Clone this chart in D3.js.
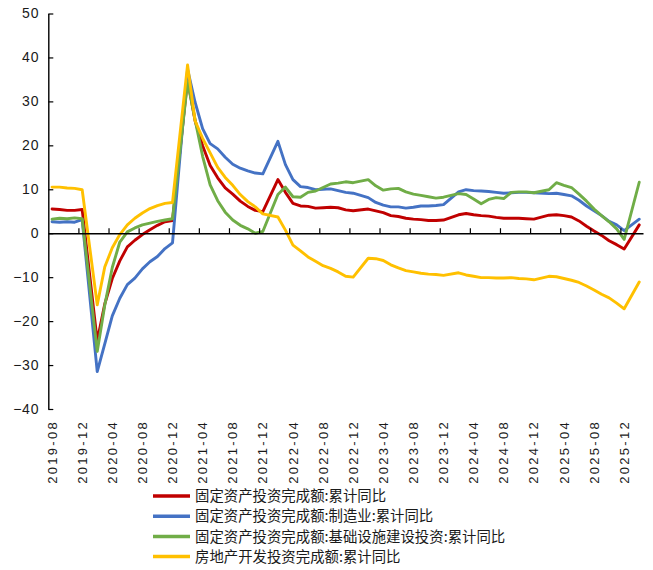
<!DOCTYPE html>
<html>
<head>
<meta charset="utf-8">
<script src="https://cdn.jsdelivr.net/npm/d3@7/dist/d3.min.js"></script>
<style>
  html, body { margin: 0; padding: 0; background: #fff; }
  svg { display: block; }
  .tick-label { font-family: "Liberation Sans", Arial, sans-serif; fill: #1a1a1a; }
  .legend-label { font-family: "Noto Sans CJK SC", sans-serif; fill: #1a1a1a; }
</style>
</head>
<body>
<svg id="chart" width="653" height="570"></svg>
<script>
// Monthly categories (cumulative YoY, January folded into Jan–Feb release)
const months = [
  "2019-08","2019-09","2019-10","2019-11","2019-12",
  "2020-01","2020-02","2020-03","2020-04","2020-05","2020-06","2020-07","2020-08","2020-09","2020-10","2020-11","2020-12",
  "2021-01","2021-02","2021-03","2021-04","2021-05","2021-06","2021-07","2021-08","2021-09","2021-10","2021-11","2021-12",
  "2022-01","2022-02","2022-03","2022-04","2022-05","2022-06","2022-07","2022-08","2022-09","2022-10","2022-11","2022-12",
  "2023-01","2023-02","2023-03","2023-04","2023-05","2023-06","2023-07","2023-08","2023-09","2023-10","2023-11","2023-12",
  "2024-01","2024-02","2024-03","2024-04","2024-05","2024-06","2024-07","2024-08","2024-09","2024-10","2024-11","2024-12",
  "2025-01","2025-02","2025-03","2025-04","2025-05","2025-06","2025-07","2025-08","2025-09","2025-10","2025-11","2025-12",
  "2026-01","2026-02"
];

// 固定资产投资完成额:累计同比
const faiTotal = [
  5.5, 5.4, 5.2, 5.2, 5.4,
  null, -24.5, -16.1, -10.3, -6.3, -3.1, -1.6, -0.3, 0.8, 1.8, 2.6, 2.9,
  null, 35.0, 25.6, 19.9, 15.4, 12.6, 10.3, 8.9, 7.3, 6.1, 5.2, 4.9,
  null, 12.2, 9.3, 6.8, 6.2, 6.1, 5.7, 5.8, 5.9, 5.8, 5.3, 5.1,
  null, 5.5, 5.1, 4.7, 4.0, 3.8, 3.4, 3.2, 3.1, 2.9, 2.9, 3.0,
  null, 4.2, 4.5, 4.2, 4.0, 3.9, 3.6, 3.4, 3.4, 3.4, 3.3, 3.2,
  null, 4.1, 4.2, 4.0, 3.7, 2.8, 1.6, 0.5, -0.5, -1.7, -2.6, -3.6,
  null, 1.9
];

// 固定资产投资完成额:制造业:累计同比
const faiManufacturing = [
  2.6, 2.5, 2.6, 2.5, 3.1,
  null, -31.5, -25.2, -18.8, -14.8, -11.7, -10.2, -8.1, -6.5, -5.3, -3.5, -2.2,
  null, 37.3, 29.8, 23.8, 20.4, 19.2, 17.3, 15.7, 14.8, 14.2, 13.7, 13.5,
  null, 20.9, 15.6, 12.2, 10.6, 10.4, 9.9, 10.0, 10.1, 9.7, 9.3, 9.1,
  null, 8.1, 7.0, 6.4, 6.0, 6.0, 5.7, 5.9, 6.2, 6.2, 6.3, 6.5,
  null, 9.4, 9.9, 9.7, 9.6, 9.5, 9.3, 9.1, 9.2, 9.3, 9.3, 9.2,
  null, 9.0, 9.1, 8.8, 8.5, 7.5, 6.2, 5.1, 4.0, 2.7, 1.9, 0.6,
  null, 3.2
];

// 固定资产投资完成额:基础设施建设投资:累计同比
const faiInfrastructure = [
  3.2, 3.4, 3.3, 3.5, 3.3,
  null, -26.9, -16.4, -7.8, -2.0, 0.3, 1.2, 1.9, 2.3, 2.7, 3.0, 3.3,
  null, 34.5, 25.8, 17.5, 11.0, 7.4, 4.8, 3.0, 1.8, 1.0, 0.0, 0.4,
  null, 8.8, 10.5, 8.3, 8.2, 9.3, 9.6, 10.4, 11.2, 11.4, 11.7, 11.5,
  null, 12.2, 10.8, 9.8, 10.1, 10.2, 9.4, 8.9, 8.6, 8.3, 8.0, 8.2,
  null, 9.0, 8.8, 7.8, 6.7, 7.7, 8.1, 7.9, 9.3, 9.4, 9.4, 9.2,
  null, 9.9, 11.5, 10.9, 10.4, 8.9, 7.3, 5.5, 4.0, 2.6, 1.0, -1.4,
  null, 11.6
];

// 房地产开发投资完成额:累计同比
const realEstate = [
  10.5, 10.5, 10.3, 10.2, 9.9,
  null, -16.3, -7.7, -3.3, -0.3, 1.9, 3.4, 4.6, 5.6, 6.3, 6.8, 7.0,
  null, 38.3, 25.6, 21.6, 18.3, 15.0, 12.7, 10.9, 8.8, 7.2, 6.0, 4.4,
  null, 3.7, 0.7, -2.7, -4.0, -5.4, -6.4, -7.4, -8.0, -8.8, -9.8, -10.0,
  null, -5.7, -5.8, -6.2, -7.2, -7.9, -8.5, -8.8, -9.1, -9.3, -9.4, -9.6,
  null, -9.0, -9.5, -9.8, -10.1, -10.1, -10.2, -10.2, -10.1, -10.3, -10.4, -10.6,
  null, -9.8, -9.9, -10.3, -10.7, -11.2, -12.0, -12.9, -13.9, -14.7, -15.9, -17.2,
  null, -11.1
];

const seriesNames = [
  "固定资产投资完成额:累计同比",
  "固定资产投资完成额:制造业:累计同比",
  "固定资产投资完成额:基础设施建设投资:累计同比",
  "房地产开发投资完成额:累计同比"
];
const seriesColors = ["#C00000", "#4472C4", "#70AD47", "#FFC000"];
const seriesValues = [faiTotal, faiManufacturing, faiInfrastructure, realEstate];

const yTicks = [-40, -30, -20, -10, 0, 10, 20, 30, 40, 50];
const xLabelEvery = 4;

const svg = d3.select("#chart");

const plotLeft = 48.3, plotRight = 643;
const x = d3.scaleBand().domain(months).range([plotLeft, plotRight]).padding(0);
const bw = x.bandwidth();
const xCenter = m => x(m) + bw / 2;
const y = d3.scaleLinear().domain([-40, 50]).range([409, 13.5]);

// y axis with inward ticks
const yAxis = d3.axisLeft(y)
  .tickValues(yTicks)
  .tickSizeInner(-5)
  .tickSizeOuter(0)
  .tickPadding(9)
  .tickFormat(d3.format("d"));

const gy = svg.append("g")
  .attr("transform", `translate(${plotLeft},0)`)
  .call(yAxis);
gy.select(".domain").attr("stroke", "#000").attr("stroke-width", 1.4);
gy.selectAll(".tick line").attr("stroke", "#000").attr("stroke-width", 1.2);
gy.selectAll(".tick text")
  .attr("class", "tick-label")
  .style("font-size", "14px")
  .style("letter-spacing", "0.8px");

// series lines (January gaps are bridged like the source chart)
const line = d3.line()
  .x(d => xCenter(d.m))
  .y(d => y(d.v));

seriesValues.forEach((vals, k) => {
  const pts = months.map((m, i) => ({ m, v: vals[i] })).filter(d => d.v !== null);
  svg.append("path")
    .datum(pts)
    .attr("fill", "none")
    .attr("stroke", seriesColors[k])
    .attr("stroke-width", 2.9)
    .attr("stroke-linejoin", "round")
    .attr("stroke-linecap", "round")
    .attr("d", line);
});

// x axis at zero: boundary ticks every 4 months, pointing up
const xIdx = d3.scaleLinear().domain([0, months.length]).range([plotLeft, plotRight]);
const boundaryTicks = d3.range(xLabelEvery, months.length, xLabelEvery);
const gx = svg.append("g")
  .attr("transform", `translate(0,${y(0)})`)
  .call(d3.axisTop(xIdx).tickValues(boundaryTicks).tickSizeInner(5).tickSizeOuter(0).tickFormat(""));
gx.select(".domain").attr("stroke", "#000").attr("stroke-width", 1.6);
gx.selectAll(".tick line").attr("stroke", "#000").attr("stroke-width", 1.2);

// rotated month labels below the plot
const labelMonths = months.filter((m, i) => i % xLabelEvery === 0);
svg.append("g")
  .selectAll("text")
  .data(labelMonths)
  .join("text")
  .attr("class", "tick-label")
  .attr("transform", d => `translate(${xCenter(d)},420) rotate(-90)`)
  .attr("text-anchor", "end")
  .attr("dy", "0.35em")
  .style("font-size", "13px")
  .style("letter-spacing", "2.3px")
  .text(d => d);

// legend
const legend = svg.append("g");
const legendY0 = 496, legendStep = 20.2;
seriesNames.forEach((name, k) => {
  const yy = legendY0 + k * legendStep;
  legend.append("line")
    .attr("x1", 153).attr("x2", 190)
    .attr("y1", yy).attr("y2", yy)
    .attr("stroke", seriesColors[k])
    .attr("stroke-width", 3.5);
  legend.append("text")
    .attr("class", "legend-label")
    .attr("x", 195)
    .attr("y", yy)
    .attr("dy", "0.36em")
    .style("font-size", "14.4px")
    .text(name);
});
</script>
</body>
</html>
